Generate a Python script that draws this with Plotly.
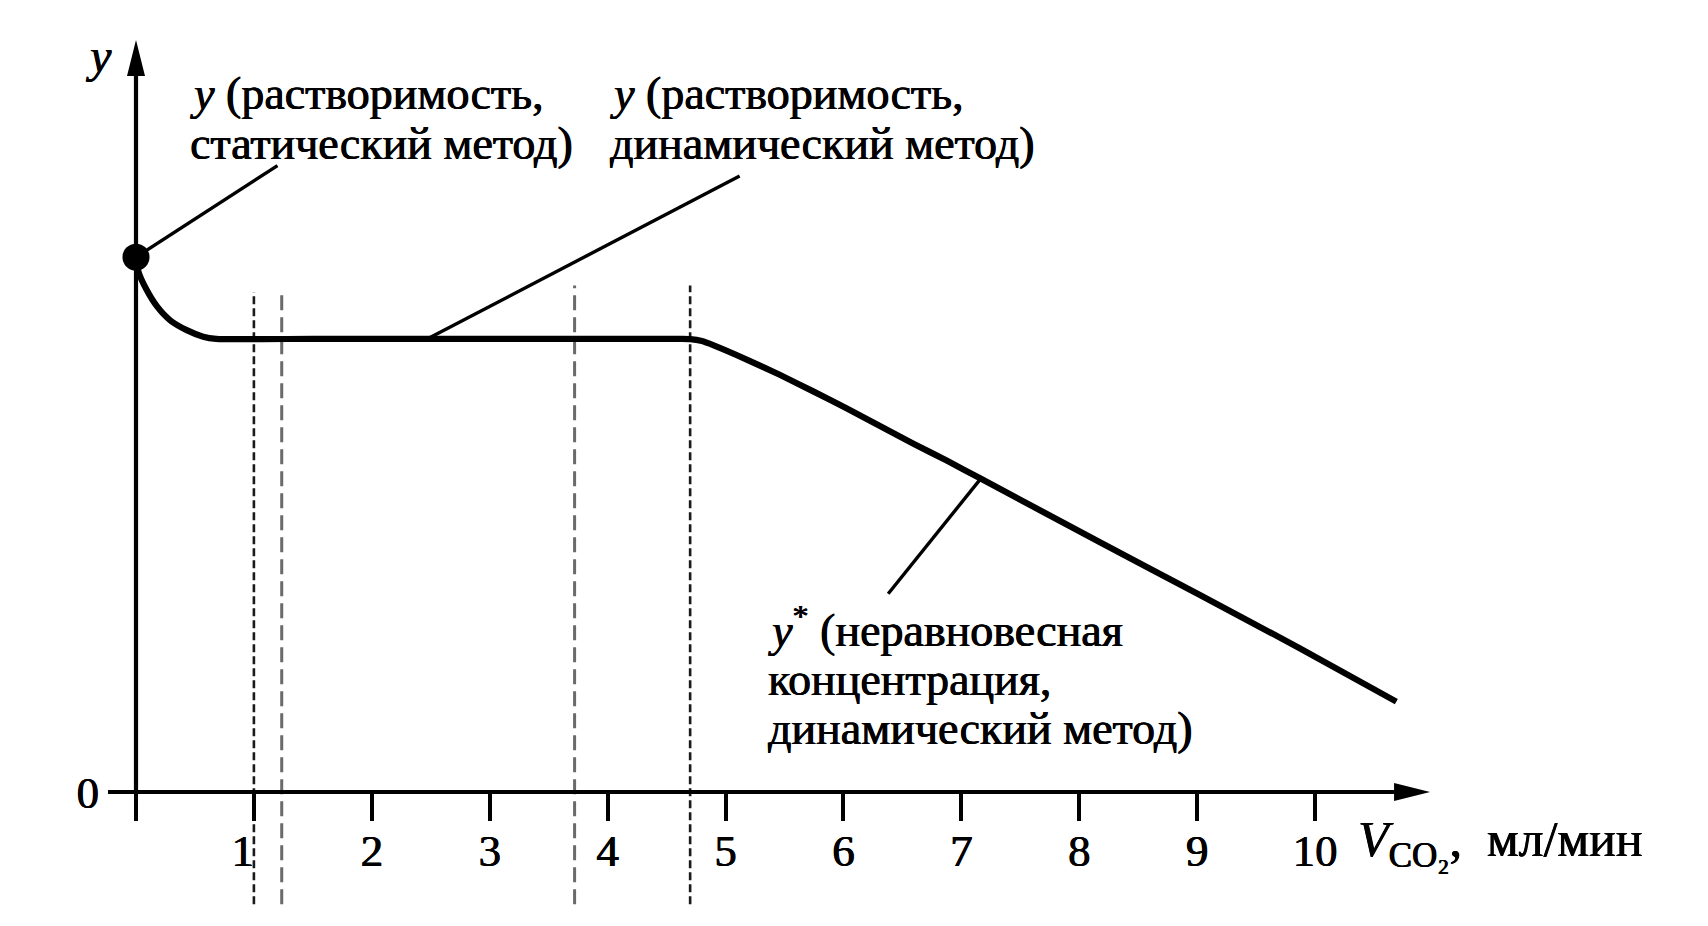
import plotly.graph_objects as go

# ---------------- data ----------------
curve_x = [0.0, 0.02, 0.09, 0.18, 0.29, 0.43, 0.57, 0.68, 1.5, 2.5, 3.5, 4.2, 4.62, 4.70,
           4.80, 4.90, 5.18, 5.46, 5.74, 6.03, 6.31, 6.59, 6.88, 7.16, 8.18, 9.02, 9.87, 10.69]
curve_y = [4.91, 4.78, 4.61, 4.455, 4.33, 4.24, 4.18, 4.16, 4.16, 4.16, 4.16, 4.16, 4.16, 4.158,
           4.14, 4.10, 3.97, 3.83, 3.68, 3.52, 3.36, 3.20, 3.04, 2.88, 2.29, 1.81, 1.32, 0.83]

static_point_x = [0.0]
static_point_y = [4.91]

dash_x = [1.0, 1.236, 3.72, 4.70]
dash_top = [4.59, 4.56, 4.65, 4.65]
dash_bottom = [-1.03, -1.03, -1.03, -1.03]
dash_kind = ["short", "long", "long", "short"]

tick_vals = [0, 1, 2, 3, 4, 5, 6, 7, 8, 9, 10]
tick_text = ["", "1\u00a0\u00a0", "2", "3", "4", "5", "6", "7", "8", "9", "10"]

# leader lines: (x0, y0, x1, y1)
leader_x0 = [0.0, 2.49, 6.38]
leader_y0 = [4.91, 4.17, 1.82]
leader_x1 = [1.20, 5.12, 7.16]
leader_y1 = [5.75, 5.655, 2.87]

label_lines = [
    ["<i>y</i> (растворимость,", "статический метод)"],
    ["<i>y</i> (растворимость,", "динамический метод)"],
    ["<i>y</i><sup>*</sup> (неравновесная", "концентрация,", "динамический метод)"],
]
label_x = [0.441, 4.003, 5.344]
label_y = [[6.41, 5.952], [6.41, 5.952], [1.515, 1.03, 0.58]]

x_axis_title = "<i>V</i><sub>CO₂</sub>,\u00a0 мл/мин"
y_axis_title = "<i>y</i>"

# ---------------- geometry of the drawing ----------------
W, H = 1708, 926
ox, oy = 136.0, 792.0          # pixel position of origin
px_x, px_y = 117.9, 108.93     # pixels per unit
x_range = [-ox / px_x, (W - ox) / px_x]
y_range = [-(H - oy) / px_y, oy / px_y]
x_tip = 10.976
y_tip = 6.904

FONT = "Liberation Serif"
BLACK = "#000000"
SHADOW = "0.6px 0 0 #000, -0.3px 0 0 #000"

fig = go.Figure()

# dashed verticals
for xv, yt, yb, kind in zip(dash_x, dash_top, dash_bottom, dash_kind):
    if kind == "short":
        ln = dict(color="#1a1a1a", width=2.6, dash="8px,4px")
    else:
        ln = dict(color="#6a6a6a", width=3, dash="15px,7px")
    fig.add_trace(go.Scatter(x=[xv, xv], y=[yb, yt], mode="lines", line=ln,
                             hoverinfo="skip", showlegend=False))

# axes lines
fig.add_trace(go.Scatter(x=[0, x_tip - 0.2], y=[0, 0], mode="lines",
                         line=dict(color=BLACK, width=4.2), hoverinfo="skip", showlegend=False))
fig.add_trace(go.Scatter(x=[0, 0], y=[0, y_tip - 0.25], mode="lines",
                         line=dict(color=BLACK, width=4.2), hoverinfo="skip", showlegend=False))

# leader lines
for a, b, c, d in zip(leader_x0, leader_y0, leader_x1, leader_y1):
    fig.add_trace(go.Scatter(x=[a, c], y=[b, d], mode="lines",
                             line=dict(color=BLACK, width=3.4), hoverinfo="skip", showlegend=False))

# main curve
fig.add_trace(go.Scatter(x=curve_x, y=curve_y, mode="lines",
                         line=dict(color=BLACK, width=6.2, shape="spline", smoothing=0.6),
                         hoverinfo="skip", showlegend=False))

# static method point
fig.add_trace(go.Scatter(x=static_point_x, y=static_point_y, mode="markers",
                         marker=dict(color=BLACK, size=27), cliponaxis=False,
                         hoverinfo="skip", showlegend=False))

# arrowheads
fig.add_shape(type="path", xref="x", yref="y", xsizemode="pixel", ysizemode="pixel",
              xanchor=x_tip, yanchor=0, path="M 0,0 L -36,9 L -36,-9 Z",
              fillcolor=BLACK, line=dict(width=0))
fig.add_shape(type="path", xref="x", yref="y", xsizemode="pixel", ysizemode="pixel",
              xanchor=0, yanchor=y_tip, path="M 0,0 L -9,-36 L 9,-36 Z",
              fillcolor=BLACK, line=dict(width=0))

annotations = []
for lines, lx, lys in zip(label_lines, label_x, label_y):
    for t, ly in zip(lines, lys):
        annotations.append(dict(x=lx, y=ly, xref="x", yref="y", text=t, showarrow=False,
                                xanchor="left", yanchor="middle",
                                font=dict(family=FONT, size=46, color=BLACK, shadow=SHADOW)))
annotations.append(dict(x=10.35, y=-0.47, xref="x", yref="y", text=x_axis_title,
                        showarrow=False, xanchor="left", yanchor="middle",
                        font=dict(family=FONT, size=50, color=BLACK, shadow=SHADOW)))
annotations.append(dict(x=-0.322, y=6.76, xref="x", yref="y", text=y_axis_title,
                        showarrow=False, xanchor="center", yanchor="middle",
                        font=dict(family=FONT, size=48, color=BLACK, shadow=SHADOW)))

xpos = (0 - y_range[0]) / (y_range[1] - y_range[0])
ypos = (0 - x_range[0]) / (x_range[1] - x_range[0])

fig.update_layout(
    width=W, height=H,
    margin=dict(l=0, r=0, t=0, b=0),
    paper_bgcolor="white", plot_bgcolor="white",
    showlegend=False, hovermode=False,
    annotations=annotations,
    xaxis=dict(range=x_range, anchor="free", position=xpos, showline=False,
               showgrid=False, zeroline=False, ticks="outside", ticklen=28,
               tickwidth=3.5, tickcolor=BLACK, tickvals=tick_vals, ticktext=tick_text,
               ticklabelstandoff=-9,
               tickfont=dict(family=FONT, size=45, color=BLACK, shadow=SHADOW), fixedrange=True),
    yaxis=dict(range=y_range, anchor="free", position=ypos, showline=False,
               showgrid=False, zeroline=False, ticks="outside", ticklen=28,
               tickwidth=3.5, tickcolor=BLACK, tickvals=[0], ticktext=["0"],
               tickfont=dict(family=FONT, size=45, color=BLACK, shadow=SHADOW), fixedrange=True),
)

fig.write_html("out.html", config={"displayModeBar": False},
               post_script="document.body.style.margin='0';document.body.style.overflow='hidden';")
